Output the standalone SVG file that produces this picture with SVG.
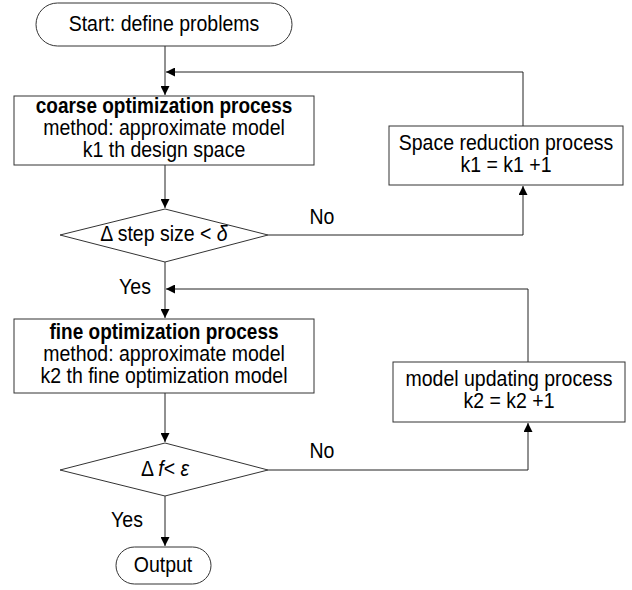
<svg xmlns="http://www.w3.org/2000/svg" width="632" height="590" viewBox="0 0 632 590">
<style>
.s{fill:#fff;stroke:#333;stroke-width:1}
.t{font-family:"Liberation Sans",Arial,sans-serif;font-size:21.5px;fill:#000;text-anchor:middle}
.b{font-weight:bold}
.l{fill:none;stroke:#222;stroke-width:1}
</style>
<defs>
<marker id="a" viewBox="0 0 10 10" refX="10" refY="5" markerWidth="9" markerHeight="9" markerUnits="userSpaceOnUse" orient="auto">
<path d="M0,0 L10,5 L0,10 z" fill="#000"/>
</marker>
</defs>
<rect width="632" height="590" fill="#fff"/>
<g id="connectors">
<path class="l" d="M165,46 V95" marker-end="url(#a)"/>
<path class="l" d="M523,126 V72 H166" marker-end="url(#a)"/>
<path class="l" d="M165,165 V208" marker-end="url(#a)"/>
<path class="l" d="M268,235 H523 V186" marker-end="url(#a)"/>
<path class="l" d="M165,262 V318" marker-end="url(#a)"/>
<path class="l" d="M528,362 V289 H166" marker-end="url(#a)"/>
<path class="l" d="M165,393 V442" marker-end="url(#a)"/>
<path class="l" d="M268,470 H528 V423" marker-end="url(#a)"/>
<path class="l" d="M165,496 V546" marker-end="url(#a)"/>
<text class="t" transform="translate(322,224) scale(0.907,1)">No</text>
<text class="t" transform="translate(135,294) scale(0.907,1)">Yes</text>
<text class="t" transform="translate(322,458) scale(0.907,1)">No</text>
<text class="t" transform="translate(127,527) scale(0.907,1)">Yes</text>
</g>
<g id="start">
<rect class="s" x="36" y="3" width="256" height="43" rx="21.5"/>
<text class="t" transform="translate(164,31) scale(0.907,1)">Start: define problems</text>
</g>
<g id="coarse">
<rect class="s" x="14" y="96" width="300" height="69"/>
<text class="t b" transform="translate(164,113) scale(0.884,1)">coarse optimization process</text>
<text class="t" transform="translate(164,135) scale(0.907,1)">method: approximate model</text>
<text class="t" transform="translate(164,157) scale(0.907,1)">k1 th design space</text>
</g>
<g id="space">
<rect class="s" x="389" y="126" width="234" height="59"/>
<text class="t" transform="translate(506,150) scale(0.907,1)">Space reduction process</text>
<text class="t" transform="translate(506,172) scale(0.907,1)">k1 = k1 +1</text>
</g>
<g id="dec1">
<polygon class="s" points="165,209 268,235 165,262 60,235"/>
<text class="t" transform="translate(164,241) scale(0.907,1)">Δ step size &lt; <tspan font-style="italic">δ</tspan></text>
</g>
<g id="fine">
<rect class="s" x="14" y="319" width="300" height="74"/>
<text class="t b" transform="translate(164,339) scale(0.884,1)">fine optimization process</text>
<text class="t" transform="translate(164,361) scale(0.907,1)">method: approximate model</text>
<text class="t" transform="translate(164,383) scale(0.907,1)">k2 th fine optimization model</text>
</g>
<g id="update">
<rect class="s" x="393" y="362" width="232" height="60"/>
<text class="t" transform="translate(509,386) scale(0.907,1)">model updating process</text>
<text class="t" transform="translate(509,408) scale(0.907,1)">k2 = k2 +1</text>
</g>
<g id="dec2">
<polygon class="s" points="165,443 268,470 165,496 60,470"/>
<text class="t" transform="translate(165,476) scale(0.907,1)">Δ <tspan font-style="italic">f</tspan>&lt; <tspan font-style="italic">ε</tspan></text>
</g>
<g id="output">
<rect class="s" x="116" y="547" width="95" height="37" rx="18.5"/>
<text class="t" transform="translate(163,572) scale(0.907,1)">Output</text>
</g>
</svg>
